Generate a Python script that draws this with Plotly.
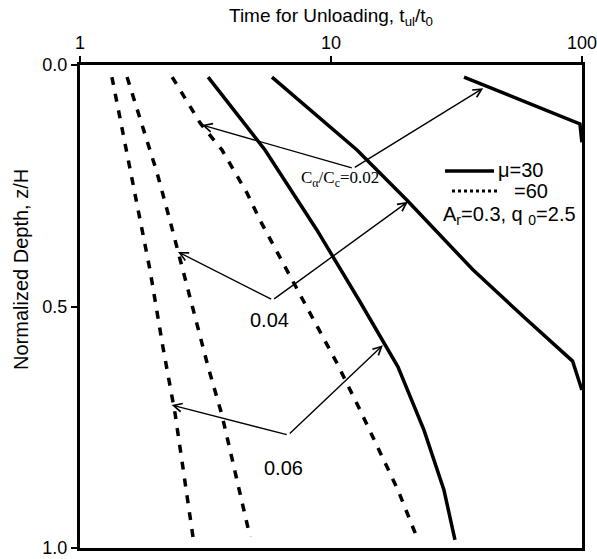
import math
import plotly.graph_objects as go

# Normalized time for unloading t_ul/t_0 versus normalized depth z/H
# mu = 60 (dashed) curves
t_mu60_002 = [2.33, 3.01, 3.68, 4.63, 5.21, 6.44, 10.56, 13.05, 18.49, 22.2]
z_mu60_002 = [0.025, 0.120, 0.176, 0.265, 0.321, 0.410, 0.617, 0.714, 0.880, 0.983]

t_mu60_004 = [1.54, 2.03, 2.28, 2.57, 3.24, 3.68, 4.76]
z_mu60_004 = [0.025, 0.224, 0.321, 0.424, 0.625, 0.725, 0.977]

t_mu60_006 = [1.34, 1.58, 1.90, 2.14, 2.39, 2.82]
z_mu60_006 = [0.025, 0.217, 0.424, 0.584, 0.720, 0.977]

# mu = 30 (solid) curves
t_mu30_002 = [33.9, 98.2, 100.0]
z_mu30_002 = [0.025, 0.122, 0.160]

t_mu30_004 = [5.82, 12.7, 20.1, 36.8, 59.3, 91.8, 100.0]
z_mu30_004 = [0.025, 0.176, 0.280, 0.424, 0.524, 0.613, 0.673]

t_mu30_006 = [3.24, 5.46, 8.80, 12.93, 18.49, 23.48, 28.2, 31.2]
z_mu30_006 = [0.025, 0.176, 0.342, 0.4865, 0.625, 0.756, 0.880, 0.983]

x_ticks = [1, 10, 100]
x_ticktext = ["1", "10", "100"]
y_ticks = [0.0, 0.5, 1.0]
y_ticktext = ["0.0", "0.5", "1.0"]

# Callouts: label, label position, vertex, tip on mu=60 curve, tip on mu=30 curve
# positions as (t, z)
callouts = [
    {"text": "C<sub>α</sub>/C<sub>c</sub>=0.02", "label": (10.87, 0.236),
     "vertex": (12.27, 0.214), "tips": [(3.06, 0.124), (40.45, 0.048)], "serif": True},
    {"text": "0.04", "label": (5.71, 0.528),
     "vertex": (5.86, 0.4865), "tips": [(2.457, 0.387), (20.27, 0.283)], "serif": False},
    {"text": "0.06", "label": (6.46, 0.834),
     "vertex": (6.76, 0.766), "tips": [(2.319, 0.704), (16.11, 0.580)], "serif": False},
]

SANS = "Liberation Sans, Arial, sans-serif"
SERIF = "Liberation Serif, Times New Roman, serif"

fig = go.Figure()

dash_style = dict(color="black", width=3.5, dash="8px,9px")
solid_style = dict(color="black", width=3.5)

for t, z in [(t_mu60_002, z_mu60_002), (t_mu60_004, z_mu60_004), (t_mu60_006, z_mu60_006)]:
    fig.add_trace(go.Scatter(x=t, y=z, mode="lines", line=dash_style,
                             showlegend=False, hoverinfo="skip"))
for t, z in [(t_mu30_002, z_mu30_002), (t_mu30_004, z_mu30_004), (t_mu30_006, z_mu30_006)]:
    fig.add_trace(go.Scatter(x=t, y=z, mode="lines", line=solid_style,
                             showlegend=False, hoverinfo="skip"))

annotations = []
for c in callouts:
    vx, vz = c["vertex"]
    for tx, tz in c["tips"]:
        annotations.append(dict(
            x=math.log10(tx), y=tz, xref="x", yref="y",
            ax=math.log10(vx), ay=vz, axref="x", ayref="y",
            text="", showarrow=True, arrowhead=5, arrowsize=1.2,
            arrowwidth=1.4, arrowcolor="black", standoff=0, startstandoff=0,
        ))
    lx, lz = c["label"]
    annotations.append(dict(
        x=math.log10(lx), y=lz, xref="x", yref="y", text=c["text"],
        showarrow=False,
        font=dict(family=SERIF if c["serif"] else SANS,
                  size=17 if c["serif"] else 20, color="black"),
    ))

# Legend block and axis title placement in pixel terms of the plot box
W, H = 597, 559
L, R, T, B = 80, 582, 65, 548


def px(xp):
    return (xp - L) / (R - L)


def py(yp):
    return 1 - (yp - T) / (B - T)


shapes = [
    dict(type="line", xref="paper", yref="paper", x0=px(445), x1=px(494),
         y0=py(171), y1=py(171), line=dict(color="black", width=3.5)),
    dict(type="line", xref="paper", yref="paper", x0=px(452), x1=px(497),
         y0=py(191), y1=py(191), line=dict(color="black", width=3, dash="3px,3px")),
]
annotations += [
    dict(x=px(496), y=py(170), xref="paper", yref="paper", text="μ=30",
         xanchor="left", yanchor="middle", showarrow=False,
         font=dict(family=SANS, size=20, color="black")),
    dict(x=px(512), y=py(191), xref="paper", yref="paper", text="=60",
         xanchor="left", yanchor="middle", showarrow=False,
         font=dict(family=SANS, size=20, color="black")),
    dict(x=px(441), y=py(216), xref="paper", yref="paper",
         text="A<sub>r</sub>=0.3, q <sub>0</sub>=2.5",
         xanchor="left", yanchor="middle", showarrow=False,
         font=dict(family=SANS, size=20, color="black")),
    dict(x=px(21), y=py(270), xref="paper", yref="paper",
         text="Normalized Depth, z/H", textangle=-90,
         xanchor="center", yanchor="middle", showarrow=False,
         font=dict(family=SANS, size=20, color="black")),
]

axis_common = dict(
    showline=True, linewidth=3, linecolor="black", mirror=True,
    ticks="outside", ticklen=6, tickwidth=2, tickcolor="black",
    showgrid=False, zeroline=False, automargin=False,
    tickfont=dict(family=SANS, size=18, color="black"),
)

fig.update_layout(
    width=W, height=H,
    margin=dict(l=L, r=W - R, t=T, b=H - B),
    paper_bgcolor="white", plot_bgcolor="white",
    xaxis=dict(type="log", range=[0, 2.0004], side="top",
               tickvals=x_ticks, ticktext=x_ticktext,
               title=dict(text="Time for Unloading, t<sub>ul</sub>/t<sub>0</sub>",
                          font=dict(family=SANS, size=19, color="black"), standoff=6),
               **axis_common),
    yaxis=dict(range=[1, 0], tickvals=y_ticks, ticktext=y_ticktext,
               **axis_common),
    shapes=shapes,
    annotations=annotations,
    showlegend=False,
)

fig.write_html("out.html")
